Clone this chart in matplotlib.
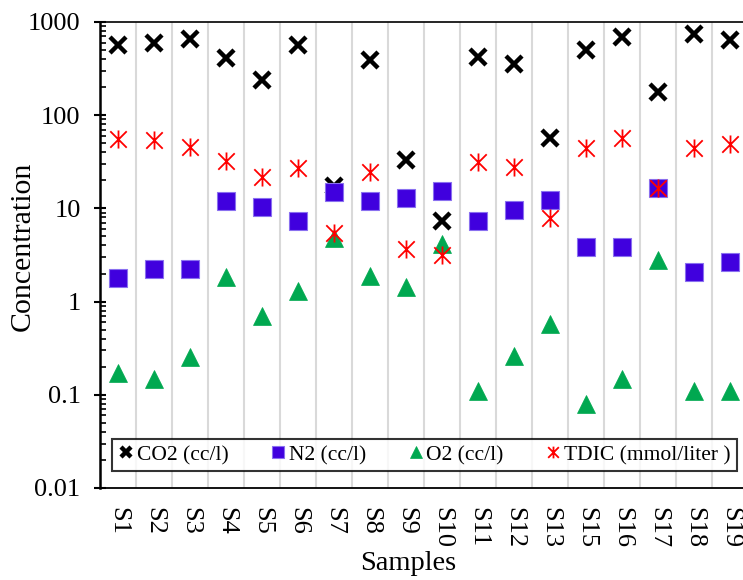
import matplotlib
matplotlib.use("Agg")
import matplotlib.pyplot as plt
from matplotlib.path import Path
import numpy as np

plt.rcParams['font.family'] = ['Liberation Serif', 'DejaVu Serif']

samples = ["S1", "S2", "S3", "S4", "S5", "S6", "S7", "S8", "S9", "S10",
           "S11", "S12", "S13", "S15", "S16", "S17", "S18", "S19"]
co2 = [566, 590, 652, 408, 239, 566, 17.5, 391, 33, 7.3,
       425, 354, 56.5, 500, 695, 179, 738, 641]
n2 = [1.78, 2.22, 2.22, 12.0, 10.4, 7.4, 15.0, 12.1, 12.8, 15.5,
      7.3, 9.5, 12.3, 3.83, 3.88, 16.4, 2.09, 2.64]
o2 = [0.173, 0.148, 0.257, 1.85, 0.70, 1.31, 4.8, 1.9, 1.45, 4.1,
      0.11, 0.26, 0.575, 0.080, 0.149, 2.79, 0.11, 0.11]
tdic = [55, 54, 46, 32.5, 21.5, 26.9, 5.5, 24.8, 3.7, 3.16,
        31.7, 28, 7.8, 44, 56.5, 16.4, 44, 49]
yticks = [0.01, 0.1, 1, 10, 100, 1000]
ytick_labels = ["0.01", "0.1", "1", "10", "100", "1000"]

W, H = 743, 580
fig = plt.figure(figsize=(W / 100, H / 100), dpi=100)
ax = fig.add_axes([100 / W, 1 - 488 / H, 648 / W, 466 / H])

x = np.arange(len(samples))

star = Path([(-1, -1), (1, 1), (-1, 1), (1, -1), (0, -1.1), (0, 1.1)],
            [Path.MOVETO, Path.LINETO, Path.MOVETO, Path.LINETO, Path.MOVETO, Path.LINETO])

ax.plot(x, co2, ls='none', marker='x', ms=11, mew=3.2, color='black',
        label='CO2 (cc/l)', zorder=3)
ax.plot(x, n2, ls='none', marker='s', ms=13, mfc='#4000de', mec='#8a70f0', mew=0.8,
        label='N2 (cc/l)', zorder=4)
ax.plot(x, o2, ls='none', marker='^', ms=13.5, mfc='#00a850', mec='#00a850', mew=0.5,
        label='O2 (cc/l)', zorder=5)
ax.plot(x, tdic, ls='none', marker=star, ms=13, mew=1.3, color='#ff0000',
        label='TDIC (mmol/liter )', zorder=6)

ax.set_yscale('log')
ax.set_ylim(0.01, 1000)
ax.set_xlim(-0.5, len(samples) - 0.5)
ax.set_yticks(yticks)
ax.set_yticklabels(ytick_labels)
ax.yaxis.set_minor_locator(matplotlib.ticker.LogLocator(base=10, subs=np.arange(2, 10)))
ax.yaxis.set_minor_formatter(matplotlib.ticker.NullFormatter())
ax.tick_params(axis='y', which='major', direction='inout', length=8, width=1.5,
               labelsize=19, pad=10)
ax.tick_params(axis='y', which='minor', direction='in', length=4, width=1.2)

ax.set_xticks(x)
ax.set_xticklabels(samples, rotation=-90, va='top', ha='center')
ax.set_xticks(np.arange(0.5, len(samples) - 0.5, 1), minor=True)
ax.tick_params(axis='x', which='both', length=0, labelsize=19, pad=14)
ax.grid(True, axis='x', which='minor', color='#d9d9d9', lw=1.5)
ax.set_axisbelow(True)

ax.spines['left'].set_linewidth(1.8)
ax.spines['bottom'].set_linewidth(1.3)
ax.spines['top'].set_linewidth(1.2)
ax.spines['right'].set_visible(False)

fig.text(23 / W, 1 - 246 / H, 'Concentration', rotation=90, fontsize=21.5,
         ha='center', va='center')
fig.text(408 / W, 1 - 551 / H, 'Samples', fontsize=20.5, ha='center', va='top')

leg = fig.legend(loc='center', bbox_to_anchor=(424.5 / W, 1 - 455 / H), ncol=4,
                 fontsize=15.5, frameon=True, fancybox=False, edgecolor='black',
                 handlelength=0.7, handletextpad=0.15, columnspacing=1.95,
                 borderpad=0.3, borderaxespad=0, markerscale=0.65)
leg.get_frame().set_linewidth(1.5)
leg.set_zorder(10)

fig.savefig('out.png', dpi=100)
